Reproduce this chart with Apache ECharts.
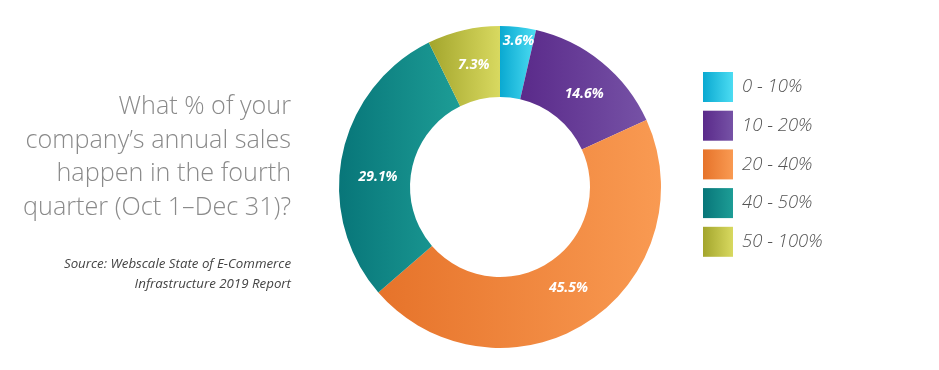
<!DOCTYPE html>
<html>
<head>
<meta charset="utf-8">
<script src="https://cdn.jsdelivr.net/npm/echarts@6/dist/echarts.min.js"></script>
<style>
html,body{margin:0;padding:0;background:#fff;}
#chart{width:939px;height:370px;}
</style>
</head>
<body>
<div id="chart"></div>
<script>
const categories = ['0 - 10%', '10 - 20%', '20 - 40%', '40 - 50%', '50 - 100%'];
const values = [3.6, 14.6, 45.5, 29.1, 7.3];
const colorStops = [
  ['#0aa9d1', '#4cdcf2'],
  ['#5a2a8a', '#7652a6'],
  ['#e6732a', '#f99a52'],
  ['#087679', '#1d9d96'],
  ['#a3a52c', '#d8d960']
];
const titleLines = ['What % of your', 'company\u2019s annual sales', 'happen in the fourth', 'quarter (Oct 1\u2013Dec 31)?'];
const sourceLines = ['Source: Webscale State of E-Commerce', 'Infrastructure 2019 Report'];

function grad(c) {
  return new echarts.graphic.LinearGradient(0, 0, 1, 0, [
    { offset: 0, color: c[0] }, { offset: 1, color: c[1] }
  ]);
}

const labelOffsets = [[4, -18], [3, 7], [-1, -7], [4, 15], [3, 3]];

const textEls = [];
titleLines.forEach((t, i) => {
  textEls.push({
    type: 'text',
    x: 291,
    y: 107 + i * 33.5,
    style: {
      text: t,
      fontFamily: 'Open Sans',
      fontWeight: 300,
      fontSize: 25.2,
      fill: '#8a8a8a',
      align: 'right',
      verticalAlign: 'middle'
    }
  });
});
sourceLines.forEach((t, i) => {
  textEls.push({
    type: 'text',
    x: 291,
    y: 264 + i * 20,
    style: {
      text: t,
      fontFamily: 'Open Sans',
      fontStyle: 'italic',
      fontSize: 13.3,
      fill: '#444444',
      align: 'right',
      verticalAlign: 'middle'
    }
  });
});

const chart = echarts.init(document.getElementById('chart'), null, { renderer: 'canvas' });
chart.setOption({
  animation: false,
  backgroundColor: '#ffffff',
  legend: {
    orient: 'vertical',
    left: 698,
    top: 67,
    itemWidth: 30,
    itemHeight: 30,
    itemGap: 8.7,
    icon: 'rect',
    data: categories,
    textStyle: {
      fontFamily: 'Open Sans',
      fontStyle: 'italic',
      fontWeight: 300,
      fontSize: 18.5,
      color: '#555555',
      padding: [0, 0, 0, 4]
    }
  },
  graphic: textEls,
  series: [{
    type: 'pie',
    center: [500, 187],
    radius: [90, 161],
    startAngle: 90,
    clockwise: true,
    avoidLabelOverlap: false,
    label: {
      show: true,
      position: 'inside',
      formatter: '{c}%',
      color: '#ffffff',
      fontFamily: 'Open Sans',
      fontWeight: 'bold',
      fontStyle: 'italic',
      fontSize: 14
    },
    labelLine: { show: false },
    emphasis: { disabled: true },
    data: categories.map((name, i) => ({
      name: name,
      value: values[i],
      itemStyle: { color: grad(colorStops[i]) },
      label: { offset: labelOffsets[i] }
    }))
  }]
});
</script>
</body>
</html>
